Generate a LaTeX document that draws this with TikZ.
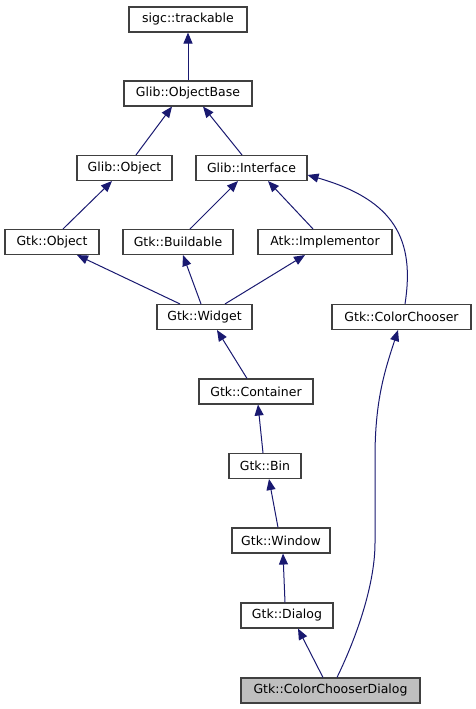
\documentclass[tikz,border=0pt]{standalone}
\usepackage{fontspec}
\setmainfont{DejaVu Sans}
\usetikzlibrary{arrows.meta}
\definecolor{edgeblue}{HTML}{191970}
\definecolor{boxline}{HTML}{404040}
\definecolor{leaffill}{HTML}{BFBFBF}
\tikzset{
  cls/.style={draw=boxline, line width=1.1pt, fill=white, minimum height=25pt, inner sep=0pt,
    font=\fontsize{12.5}{14}\selectfont, text=black},
  leaf/.style={cls, fill=leaffill},
  edge/.style={draw=edgeblue, line width=1pt, -{Triangle[length=11pt,width=9pt]}},
}
\begin{document}
\begin{tikzpicture}[x=1pt,y=-1pt]
\useasboundingbox (0,0) rectangle (476,709);
\node[cls, minimum width=118pt] (track)  at (188,19.5)  {sigc::trackable};
\node[cls, minimum width=128pt] (objbase) at (188,93.5) {Glib::ObjectBase};
\node[cls, minimum width=95pt]  (gobj)   at (124.5,168) {Glib::Object};
\node[cls, minimum width=111pt] (iface)  at (251.5,168) {Glib::Interface};
\node[cls, minimum width=94pt]  (gtkobj) at (52,242)    {Gtk::Object};
\node[cls, minimum width=110pt] (build)  at (178,242)   {Gtk::Buildable};
\node[cls, minimum width=134pt] (atk)    at (325,242)   {Atk::Implementor};
\node[cls, minimum width=95pt]  (widget) at (204.5,317) {Gtk::Widget};
\node[cls, minimum width=139pt] (cc)     at (401.5,317) {Gtk::ColorChooser};
\node[cls, minimum width=114pt] (cont)   at (256,391.5) {Gtk::Container};
\node[cls, minimum width=72pt]  (bin)    at (265,466)   {Gtk::Bin};
\node[cls, minimum width=98pt]  (win)    at (281,540.5) {Gtk::Window};
\node[cls, minimum width=92pt]  (dlg)    at (287,615.5) {Gtk::Dialog};
\node[leaf, minimum width=179pt] (ccd)   at (330.5,690.5) {Gtk::ColorChooserDialog};

\draw[edge] (objbase.north) -- (track.south);
\draw[edge] ([xshift=11.5pt]gobj.north) -- ([xshift=-16pt]objbase.south);
\draw[edge] ([xshift=-9.5pt]iface.north) -- ([xshift=15pt]objbase.south);
\draw[edge] ([xshift=11pt]gtkobj.north) -- ([xshift=-12.5pt]gobj.south);
\draw[edge] ([xshift=12pt]build.north) -- ([xshift=-13.5pt]iface.south);
\draw[edge] ([xshift=-12pt]atk.north) -- ([xshift=16.5pt]iface.south);
\draw[edge] ([xshift=3.5pt]cc.north) .. controls (415,240) and (395,200) .. ([yshift=-7pt]iface.east);
\draw[edge] ([xshift=-24.5pt]widget.north) -- ([xshift=25pt]gtkobj.south);
\draw[edge] ([xshift=-3.5pt]widget.north) -- ([xshift=5pt]build.south);
\draw[edge] ([xshift=20.5pt]widget.north) -- ([xshift=-20pt]atk.south);
\draw[edge] ([xshift=-9pt]cont.north) -- ([xshift=12.5pt]widget.south);
\draw[edge] ([xshift=-2pt]bin.north) -- ([xshift=2pt]cont.south);
\draw[edge] ([xshift=-3pt]win.north) -- ([xshift=4pt]bin.south);
\draw[edge] ([xshift=-2pt]dlg.north) -- ([xshift=2pt]win.south);
\draw[edge] ([xshift=-7.5pt]ccd.north) -- ([xshift=11pt]dlg.south);
\draw[edge] ([xshift=6.5pt]ccd.north) .. controls (360,630) and (375,580) .. (375,543)
  -- (375,457) .. controls (375,400) and (385,370) .. ([xshift=-3.5pt]cc.south);
\end{tikzpicture}
\end{document}
